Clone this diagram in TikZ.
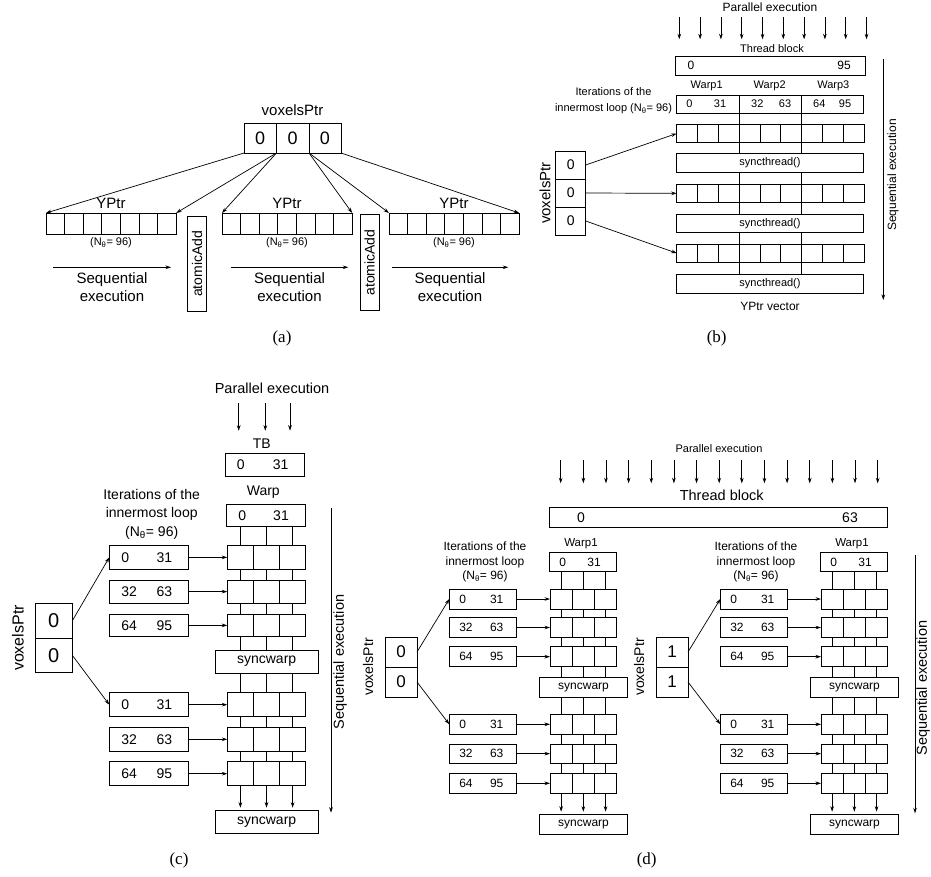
\documentclass[tikz,border=0pt]{standalone}
\usepackage{fontspec}
\newfontfamily\af{Liberation Sans}
\newfontfamily\capf{Liberation Serif}
\usetikzlibrary{arrows.meta,backgrounds}
\pgfdeclarelayer{bottom}
\pgfsetlayers{bottom,background,main}
\newcommand\fs[2]{\fontsize{#1}{#2}\selectfont}
% \bx[opts]{name}{x1}{y1}{x2}{y2}{text}
\newcommand\bx[7][]{\node[bx,#1,minimum width={#5-#3},minimum height={#6-#4},anchor=north west] (#2) at (#3,#4) {#7};}
% sub-diagram of (d)
\newcommand\dsub[2]{%
  \node[tx,font=\af\fs{11.5}{13}] (#1-wl) at (581,543.3) {Warp1};
  \bx{#1-warp}{549}{552.3}{616.7}{571.7}{}
  \node[tx,font=\af\fs{12}{14}] (#1-w0) at (562.7,562) {0};
  \node[tx,font=\af\fs{12}{14}] (#1-w31) at (594,562) {31};
  \node[tx,font=\af\fs{12}{14.7},align=center] (#1-it) at (485,562) {Iterations of the\\innermost loop\\(N\textsubscript{θ}= 96)};
  \foreach \g/\r/\ya/\yb/\la/\lb in {1/1/589/609/0/31, 1/2/617.7/637.3/32/63, 1/3/646.7/666.7/64/95,
                                      2/4/714.3/734.3/0/31, 2/5/744/763.3/32/63, 2/6/773.3/793.3/64/95}{
    \bx{#1-q\r}{449.3}{\ya}{516.7}{\yb}{}
    \node[tx,anchor=west,font=\af\fs{12}{14}] (#1-q\r a) at (459.3,{(\ya+\yb)/2}) {\la};
    \node[tx,font=\af\fs{12}{14}] (#1-q\r b) at (496.7,{(\ya+\yb)/2}) {\lb};
    \foreach \c in {1,2,3}{
      \pgfmathsetmacro\xa{550+(\c-1)*22.23}
      \pgfmathsetmacro\xb{\xa+22.23}
      \bx{#1-r\r c\c}{\xa}{\ya}{\xb}{\yb}{}
    }
    \draw[arr] (#1-q\r.east) -- (#1-r\r c1.west);
  }
  \bx[font=\af\fs{12}{14}]{#1-sw1}{539.3}{677.7}{627.7}{697.7}{syncwarp}
  \bx[font=\af\fs{12}{14}]{#1-sw2}{539.3}{814.3}{627.7}{834.3}{syncwarp}
  \bx[font=\af\fs{17}{19}]{#1-v1}{385}{637}{417}{667}{#2}
  \bx[font=\af\fs{17}{19}]{#1-v2}{385}{667}{417}{697}{#2}
  \node[tx,rotate=90,font=\af\fs{14}{16}] (#1-vl) at (368,667) {voxelsPtr};
  \draw[arr] (#1-v1.east) -- (#1-q1.west);
  \draw[arr] (#1-v2.east) -- (#1-q4.west);
  \begin{scope}[on background layer]
    \foreach \c in {1,2,3}{
      \draw[ln] (#1-r1c\c |- #1-warp.south) -- (#1-r1c\c |- #1-sw1.north);
      \draw[ln] (#1-r4c\c |- #1-sw1.south) -- (#1-r6c\c.south);
    }
  \end{scope}
  \foreach \c in {1,2,3}{
    \draw[arr] (#1-r6c\c.south) -- ([yshift=2.6pt]#1-r6c\c |- #1-sw2.north);
  }
}
\begin{document}
\begin{tikzpicture}[x=1pt,y=-1pt,
  bx/.style={draw,line width=0.8pt,fill=white,inner sep=0pt,outer sep=0pt},
  tx/.style={inner sep=0pt,outer sep=0pt},
  arr/.style={line width=0.7pt,-{Stealth[length=5.5pt,width=3.6pt]}},
  ln/.style={line width=0.8pt}]
\begin{pgfonlayer}{bottom}
\fill[white] (0,0) rectangle (931,877);
\end{pgfonlayer}
\useasboundingbox (0,0) rectangle (931,877);

%================ (a) ================
\node[tx,font=\af\fs{15}{18}] (a-lab) at (292.5,110) {voxelsPtr};
\bx[font=\af\fs{18}{20}]{a-v1}{244}{123}{276.5}{153}{0}
\bx[font=\af\fs{18}{20}]{a-v2}{276.5}{123}{309}{153}{0}
\bx[font=\af\fs{18}{20}]{a-v3}{309}{123}{341}{153}{0}
\foreach \k/\xs in {L/46,M/222,R/389}{
  \foreach \i in {1,...,7}{
    \pgfmathsetmacro\xa{\xs+(\i-1)*18.6}
    \pgfmathsetmacro\xb{\xa+18.6}
    \bx{a-\k\i}{\xa}{213}{\xb}{234}{}
  }
}
\foreach \k/\xc in {L/111,M/287,R/454}{
  \node[tx,font=\af\fs{15}{18}] (a-y\k) at (\xc,203) {YPtr};
  \node[tx,font=\af\fs{11}{13}] (a-n\k) at (\xc,243) {(N\textsubscript{θ}= 96)};
}
\bx{a-at1}{187.7}{216}{206.3}{311.7}{}
\node[tx,rotate=90,font=\af\fs{14}{16}] (a-at1t) at (a-at1.center) {atomicAdd};
\bx{a-at2}{360}{214.7}{379}{310.3}{}
\node[tx,rotate=90,font=\af\fs{14}{16}] (a-at2t) at (a-at2.center) {atomicAdd};
\foreach \k/\xa/\xb/\xc in {1/53/171/112, 2/231/348.3/289.5, 3/391.7/508.3/450}{
  \coordinate (a-s\k a) at (\xa,267.3);
  \coordinate (a-s\k b) at (\xb,267.3);
  \draw[arr] (a-s\k a) -- (a-s\k b);
  \node[tx,font=\af\fs{15}{18},align=center] (a-st\k) at (\xc,286.7) {Sequential\\execution};
}
\draw[arr] (a-v1.south west) -- (a-L1.north west);
\draw[arr] (a-v2.south west) -- (a-L7.north east);
\draw[arr] (a-v2.south west) -- (a-M1.north west);
\draw[arr] (a-v3.south west) -- (a-M7.north east);
\draw[arr] (a-v3.south west) -- (a-R1.north west);
\draw[arr] (a-v3.south east) -- (a-R7.north east);
\node[tx,font=\capf\fs{17}{19}] (a-cap) at (282,338) {(a)};

%================ (b) ================
\node[tx,font=\af\fs{12}{14}] (b-par) at (770,7.5) {Parallel execution};
\foreach \i in {0,...,9}{
  \coordinate (b-pa\i) at ({679.3+20.8*\i},17.3);
  \coordinate (b-pb\i) at ({679.3+20.8*\i},39.3);
  \draw[arr] (b-pa\i) -- (b-pb\i);
}
\node[tx,font=\af\fs{11}{13}] (b-tbl) at (772,48.3) {Thread block};
\bx{b-tb}{675}{56}{865}{75}{}
\node[tx,font=\af\fs{12}{14}] (b-tb0) at (691,65.5) {0};
\node[tx,font=\af\fs{12}{14}] (b-tb95) at (844,65.5) {95};
\node[tx,font=\af\fs{11}{13}] (b-wl1) at (706.7,86) {Warp1};
\node[tx,font=\af\fs{11}{13}] (b-wl2) at (769.7,86) {Warp2};
\node[tx,font=\af\fs{11}{13}] (b-wl3) at (833.3,86) {Warp3};
\bx{b-w1}{676.7}{95}{739.3}{113.3}{}
\bx{b-w2}{739.3}{95}{801.7}{113.3}{}
\bx{b-w3}{801.7}{95}{863.3}{113.3}{}
\foreach \xc/\t in {689.3/0,720/31,757.3/32,785/63,819.3/64,845/95}{
  \node[tx,font=\af\fs{11}{13}] (b-wn\t) at (\xc,104.2) {\t};
}
\node[tx,font=\af\fs{11}{16.3},align=center,anchor=east] (b-it) at (672,101) {Iterations of the\\innermost loop (N\textsubscript{θ}= 96)};
\foreach \r/\ya/\yb in {1/124.3/142.7, 2/184/202.7, 3/244/262.3}{
  \foreach \c in {1,...,9}{
    \pgfmathsetmacro\xa{676.7+(\c-1)*20.81}
    \pgfmathsetmacro\xb{\xa+20.81}
    \bx{b-r\r c\c}{\xa}{\ya}{\xb}{\yb}{}
  }
}
\bx[font=\af\fs{11}{13}]{b-s1}{676.7}{153.3}{863.3}{172}{syncthread()}
\bx[font=\af\fs{11}{13}]{b-s2}{676.7}{214.3}{863.3}{232.7}{syncthread()}
\bx[font=\af\fs{11}{13}]{b-s3}{676.7}{274.3}{863.3}{293.3}{syncthread()}
\begin{scope}[on background layer]
  \draw[ln] (b-w1.south east) -- (b-w1.south east |- b-s3.north);
  \draw[ln] (b-w2.south east) -- (b-w2.south east |- b-s3.north);
\end{scope}
\bx[font=\af\fs{14}{16}]{b-v1}{555.7}{151}{585.7}{179}{0}
\bx[font=\af\fs{14}{16}]{b-v2}{555.7}{179}{585.7}{207}{0}
\bx[font=\af\fs{14}{16}]{b-v3}{555.7}{207}{585.7}{235}{0}
\node[tx,rotate=90,font=\af\fs{15}{17}] (b-vl) at (545,193) {voxelsPtr};
\draw[arr] (b-v1.east) -- (b-r1c1.west);
\draw[arr] (b-v2.east) -- (b-r2c1.west);
\draw[arr] (b-v3.east) -- (b-r3c1.west);
\coordinate (b-sa) at (883.3,59.3);
\coordinate (b-sb) at (883.3,300);
\draw[arr] (b-sa) -- (b-sb);
\node[tx,rotate=90,font=\af\fs{12}{14}] (b-sl) at (893,175) {Sequential execution};
\node[tx,font=\af\fs{12}{14}] (b-yv) at (770,306.7) {YPtr vector};
\node[tx,font=\capf\fs{17}{19}] (b-cap) at (716.7,338) {(b)};

%================ (c) ================
\node[tx,font=\af\fs{14.5}{17}] (c-par) at (272,388) {Parallel execution};
\foreach \i/\xc in {1/238.7,2/265.3,3/290}{
  \coordinate (c-pa\i) at (\xc,403.3);
  \coordinate (c-pb\i) at (\xc,430.7);
  \draw[arr] (c-pa\i) -- (c-pb\i);
}
\node[tx,font=\af\fs{14}{16}] (c-tbl) at (261.7,444) {TB};
\bx{c-tb}{225.7}{453.3}{304}{476.7}{}
\node[tx,font=\af\fs{14}{16}] (c-tb0) at (240.7,465) {0};
\node[tx,font=\af\fs{14}{16}] (c-tb31) at (280.7,465) {31};
\node[tx,font=\af\fs{14}{16}] (c-wl) at (263.3,491.7) {Warp};
\bx{c-warp}{226.7}{504}{305.3}{526.7}{}
\node[tx,font=\af\fs{14}{16}] (c-w0) at (242.3,515.3) {0};
\node[tx,font=\af\fs{14}{16}] (c-w31) at (281,515.3) {31};
\node[tx,font=\af\fs{14}{18.2},align=center] (c-it) at (151.7,514.3) {Iterations of the\\innermost loop\\(N\textsubscript{θ}= 96)};
\foreach \r/\ya/\yb/\la/\lb in {1/545.7/569/0/31, 2/580/603.3/32/63, 3/614/636.7/64/95,
                                4/692.7/716.7/0/31, 5/727.3/751.3/32/63, 6/761.7/785.7/64/95}{
  \bx{c-q\r}{109.3}{\ya}{188.3}{\yb}{}
  \node[tx,anchor=west,font=\af\fs{14}{16}] (c-q\r a) at (121.3,{(\ya+\yb)/2}) {\la};
  \node[tx,font=\af\fs{14}{16}] (c-q\r b) at (164.3,{(\ya+\yb)/2}) {\lb};
  \foreach \c in {1,2,3}{
    \pgfmathsetmacro\xa{227.3+(\c-1)*26.13}
    \pgfmathsetmacro\xb{\xa+26.13}
    \bx{c-r\r c\c}{\xa}{\ya}{\xb}{\yb}{}
  }
  \draw[arr] (c-q\r.east) -- (c-r\r c1.west);
}
\bx[font=\af\fs{14}{16}]{c-sw1}{215}{650}{318.3}{673.3}{syncwarp}
\bx[font=\af\fs{14}{16}]{c-sw2}{215}{810.7}{318.3}{833.7}{syncwarp}
\begin{scope}[on background layer]
  \foreach \c in {1,2,3}{
    \draw[ln] (c-r1c\c |- c-warp.south) -- (c-r1c\c |- c-sw1.north);
    \draw[ln] (c-r4c\c |- c-sw1.south) -- (c-r6c\c.south);
  }
\end{scope}
\foreach \c in {1,2,3}{
  \draw[arr] (c-r6c\c.south) -- ([yshift=3pt]c-r6c\c |- c-sw2.north);
}
\bx[font=\af\fs{20}{22}]{c-v1}{35}{603.3}{72.3}{638.3}{0}
\bx[font=\af\fs{20}{22}]{c-v2}{35}{638.3}{72.3}{672.3}{0}
\node[tx,rotate=90,font=\af\fs{16}{18}] (c-vl) at (18,638) {voxelsPtr};
\draw[arr] (c-v1.east) -- (c-q1.west);
\draw[arr] (c-v2.east) -- (c-q4.west);
\coordinate (c-sa) at (331,508.3);
\coordinate (c-sb) at (331,812.7);
\draw[arr] (c-sa) -- (c-sb);
\node[tx,rotate=90,font=\af\fs{14.5}{17}] (c-sl) at (340,662) {Sequential execution};
\node[tx,font=\capf\fs{17}{19}] (c-cap) at (179,860.7) {(c)};

%================ (d) ================
\node[tx,font=\af\fs{11}{13}] (d-par) at (719,448.3) {Parallel execution};
\foreach \i in {0,...,14}{
  \coordinate (d-pa\i) at ({560.7+22.64*\i},460);
  \coordinate (d-pb\i) at ({560.7+22.64*\i},483.3);
  \draw[arr] (d-pa\i) -- (d-pb\i);
}
\node[tx,font=\af\fs{14.5}{17}] (d-tbl) at (721.7,495) {Thread block};
\bx{d-tb}{549}{507.7}{887.7}{527.3}{}
\node[tx,font=\af\fs{14}{16}] (d-tb0) at (581,517.5) {0};
\node[tx,font=\af\fs{14}{16}] (d-tb63) at (850,517.5) {63};
\dsub{dl}{0}
\begin{scope}[xshift=271pt]
\dsub{dr}{1}
\end{scope}
\coordinate (d-sa) at (915,555);
\coordinate (d-sb) at (915,813.3);
\draw[arr] (d-sa) -- (d-sb);
\node[tx,rotate=90,font=\af\fs{14.5}{17}] (d-sl) at (923,688) {Sequential execution};
\node[tx,font=\capf\fs{17}{19}] (d-cap) at (646.7,860.7) {(d)};
\end{tikzpicture}
\end{document}
